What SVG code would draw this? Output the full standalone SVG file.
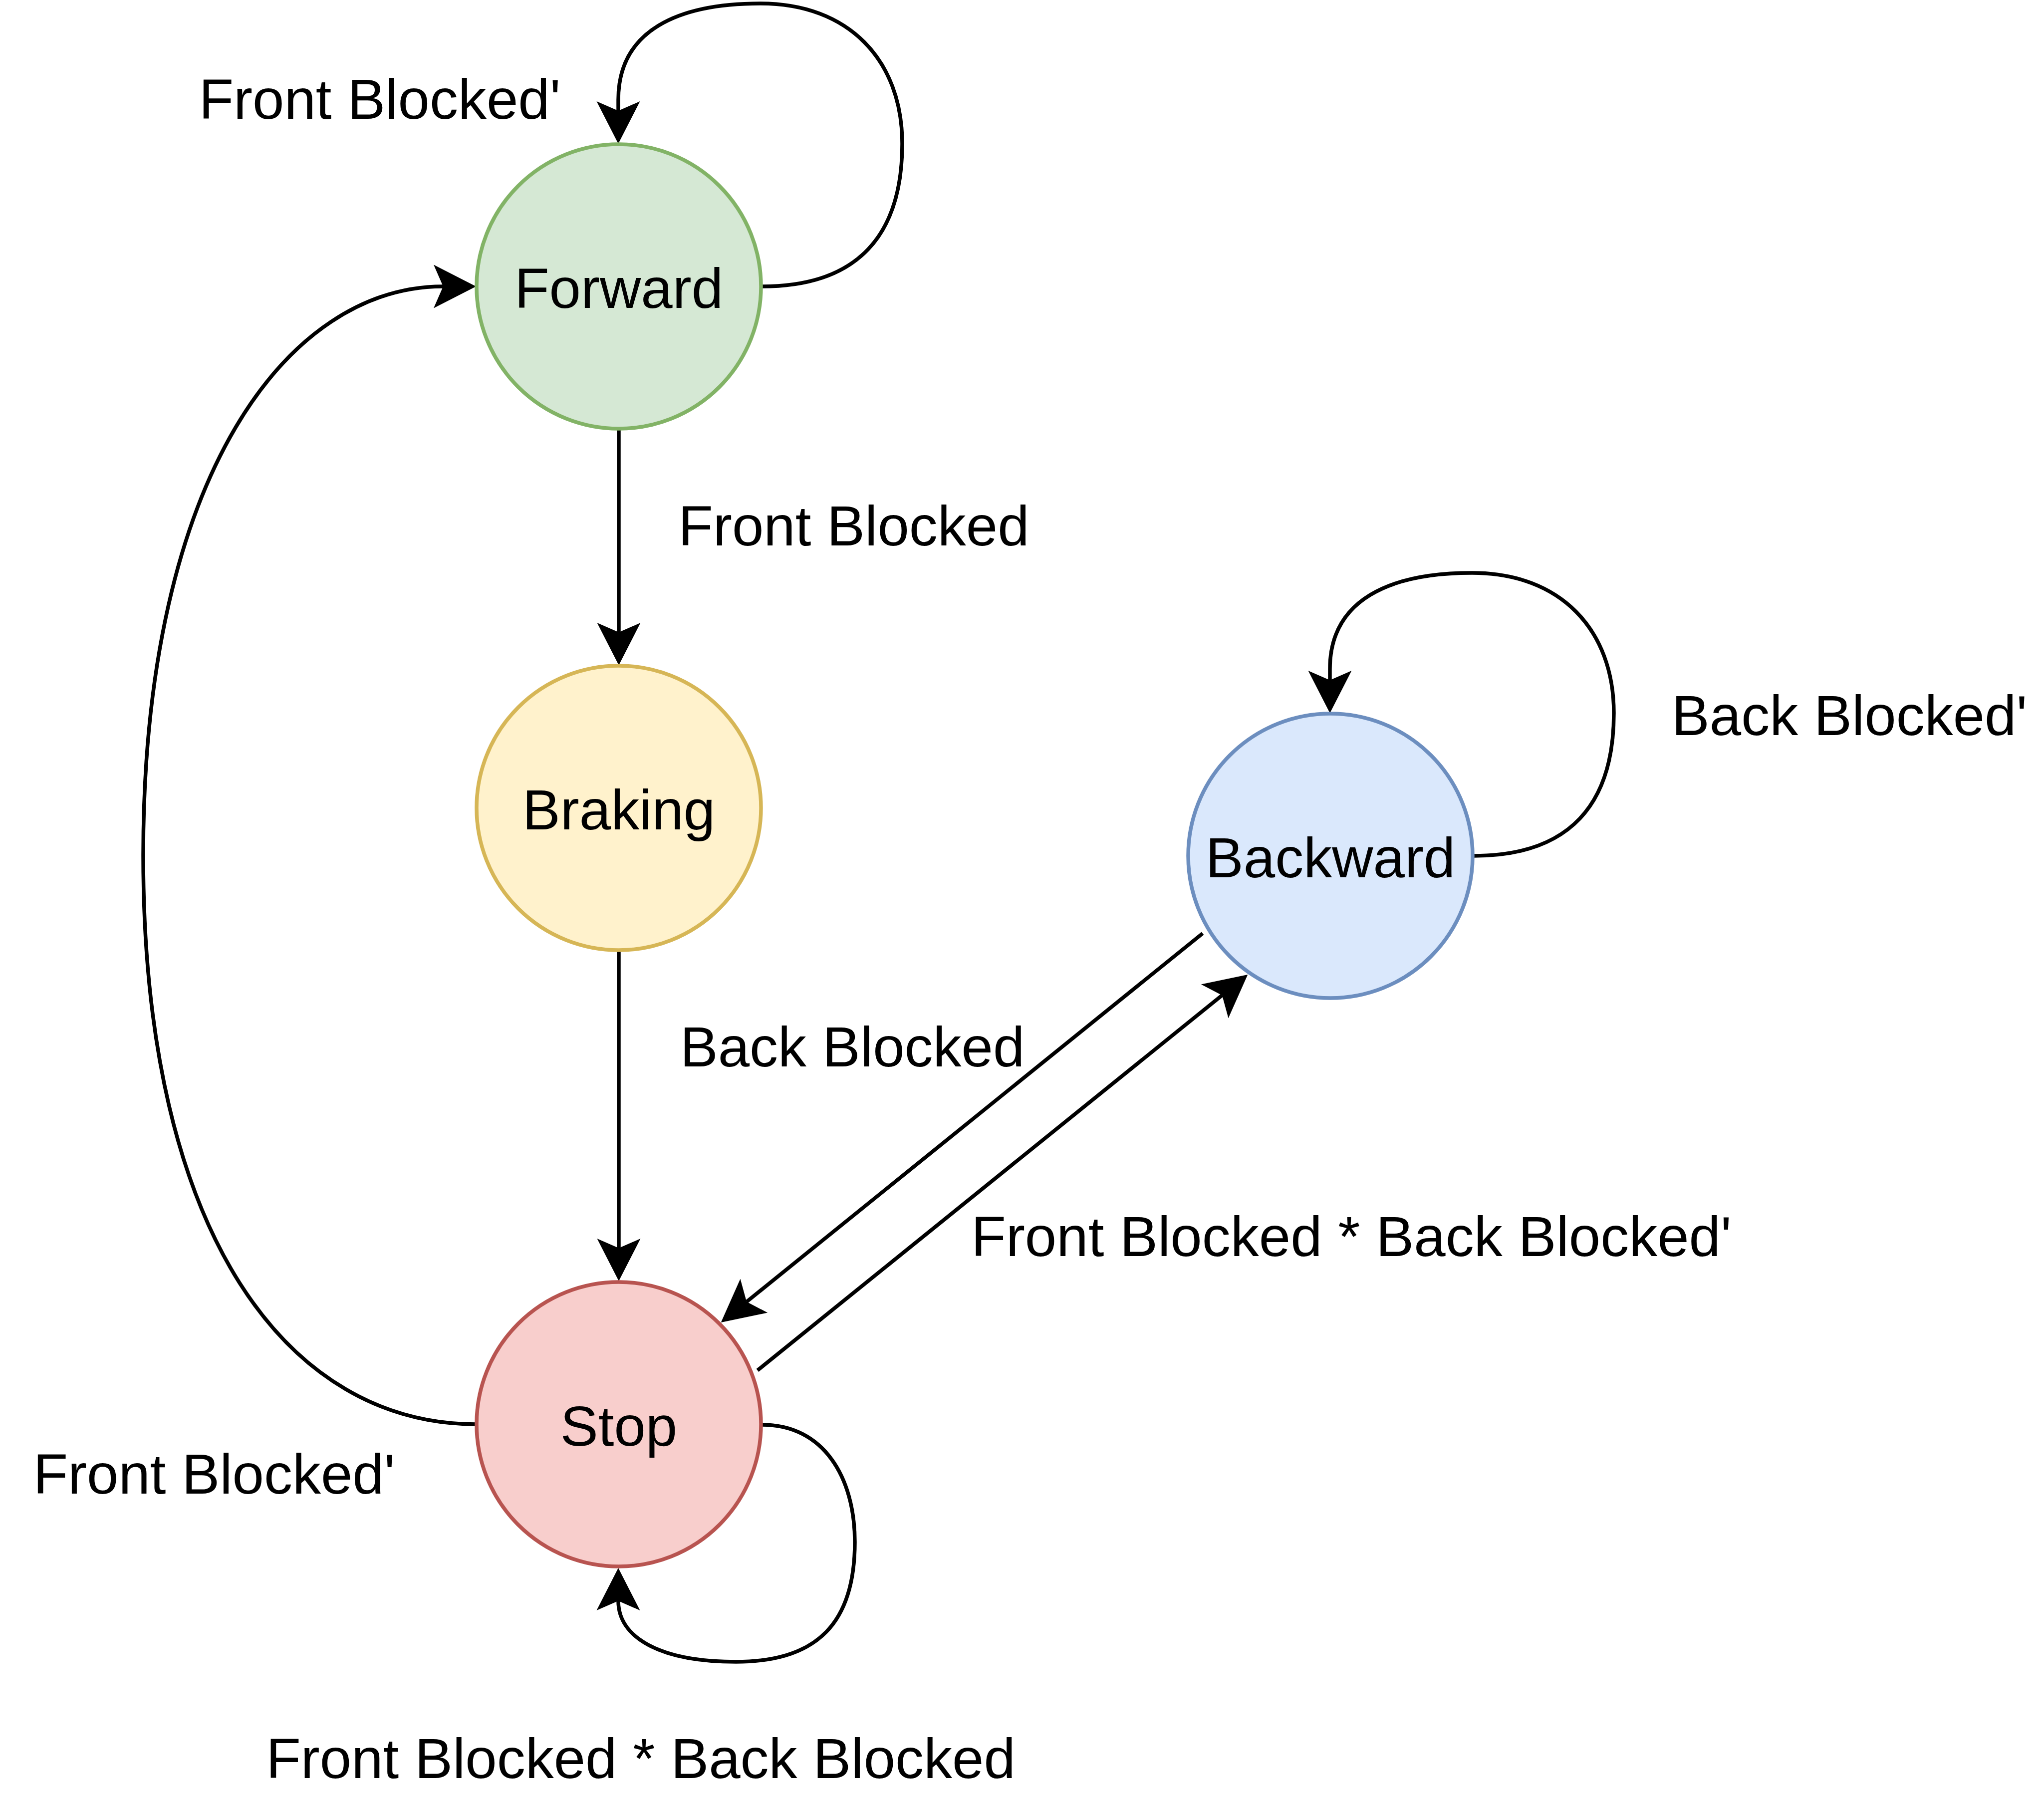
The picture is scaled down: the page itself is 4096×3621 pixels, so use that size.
<svg xmlns="http://www.w3.org/2000/svg" width="4096" height="3621" viewBox="0 0 4096 3621">
<style>
.node{stroke-width:7.5}
.edge{fill:none;stroke:#000;stroke-width:7.5;marker-end:url(#arr)}
text{font-family:"Liberation Sans",Arial,sans-serif;font-size:114px;fill:#000;text-anchor:middle}
</style>
<defs>
<marker id="arr" markerUnits="userSpaceOnUse" viewBox="-25 -50 100 100" markerWidth="100" markerHeight="100" refX="0" refY="0" orient="auto" overflow="visible">
<path d="M66,0 L-19,-43.5 L0,0 L-19,43.5 Z" fill="#000"/>
</marker>
</defs>
<rect width="4096" height="3621" fill="#fff"/>
<g id="connectors">
<path class="edge" d="M1527,574 C1720,574 1808,470 1808,288 C1808,120 1700,7 1524,7 C1360,7 1239,60 1239,200 L1239,222"/>
<path class="edge" d="M1240,859 L1240,1267"/>
<path class="edge" d="M1240,1904 L1240,2501"/>
<path class="edge" transform="translate(1426,1141)" d="M1527,574 C1720,574 1808,470 1808,288 C1808,120 1700,7 1524,7 C1360,7 1239,60 1239,200 L1239,222"/>
<path class="edge" d="M2410,1870.3 L1496.1,2608.6"/>
<path class="edge" d="M1518,2746 L2449,1994.4"/>
<path class="edge" d="M1527,2855 C1650,2855 1713,2960 1713,3090 C1713,3250 1640,3330 1475,3330 C1320,3330 1239,3280 1239,3208"/>
<path class="edge" d="M955,2854 C580,2854 287,2480 287,1714 C287,948 580,574 888,574"/>
<text x="761" y="238">Front Blocked'</text>
<text x="1711" y="1093">Front Blocked</text>
<text x="3706" y="1473">Back Blocked'</text>
<text x="1708" y="2137">Back Blocked</text>
<text x="2708" y="2517">Front Blocked * Back Blocked'</text>
<text x="429" y="2993">Front Blocked'</text>
<text x="1284" y="3563">Front Blocked * Back Blocked</text>
</g>
<g id="forward">
<circle class="node" cx="1240" cy="574" r="285" fill="#d5e8d4" stroke="#82b366"/>
<text x="1240" y="617">Forward</text>
</g>
<g id="braking">
<circle class="node" cx="1240" cy="1619" r="285" fill="#fff2cc" stroke="#d6b656"/>
<text x="1240" y="1662">Braking</text>
</g>
<g id="backward">
<circle class="node" cx="2666" cy="1715" r="285" fill="#dae8fc" stroke="#6c8ebf"/>
<text x="2666" y="1758">Backward</text>
</g>
<g id="stop">
<circle class="node" cx="1240" cy="2854" r="285" fill="#f8cecc" stroke="#b85450"/>
<text x="1240" y="2897">Stop</text>
</g>
</svg>
